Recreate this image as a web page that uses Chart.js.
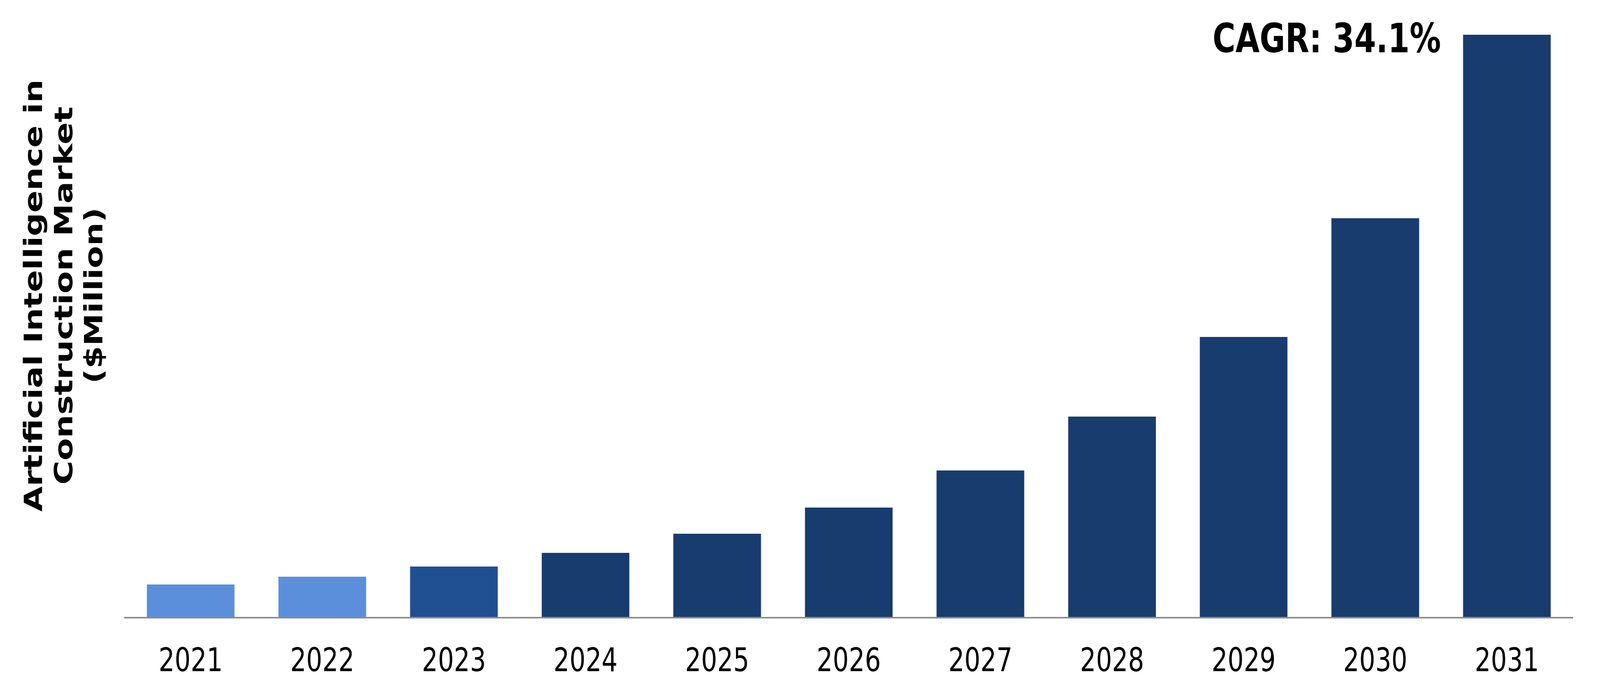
<!DOCTYPE html>
<html>
<head>
<meta charset="utf-8">
<style>
  html, body { margin: 0; padding: 0; background: #fff; overflow: hidden; }
  #aiChart { position: fixed; left: 0; top: 0; display: block; }
</style>
<script src="https://cdn.jsdelivr.net/npm/chart.js@4.4.1/dist/chart.umd.min.js"></script>
</head>
<body>
<canvas id="aiChart" width="5331" height="1757"></canvas>
<script>
// data ($Million, estimated)
const years = ['2021', '2022', '2023', '2024', '2025', '2026', '2027', '2028', '2029', '2030', '2031'];
const marketSize = [425, 525, 655, 830, 1075, 1410, 1885, 2575, 3595, 5115, 7465];
const barColors = ['#5b8fdb', '#5b8fdb', '#204f92', '#183c6e', '#183c6e', '#183c6e',
  '#183c6e', '#183c6e', '#183c6e', '#183c6e', '#183c6e'];
const yTitle = ['Artificial Intelligence in', 'Construction Market', '($Million)'];
const cagrText = 'CAGR: 34.1%';

// rotated axis title and CAGR note
const notes = {
  id: 'notes',
  afterDraw(chart) {
    const { ctx, chartArea } = chart;
    ctx.save();
    ctx.fillStyle = '#000';
    ctx.font = 'bold 84px "DejaVu Sans"';
    ctx.textAlign = 'center';
    ctx.textBaseline = 'alphabetic';
    ctx.translate(140, 757);
    ctx.rotate(-Math.PI / 2);
    yTitle.forEach((line, i) => ctx.fillText(line, 0, i * 100.5));
    ctx.restore();

    ctx.save();
    ctx.fillStyle = '#000';
    ctx.font = 'bold 104px "DejaVu Sans"';
    ctx.textAlign = 'left';
    ctx.textBaseline = 'alphabetic';
    ctx.fillText(cagrText, chartArea.right - 1200, 134);
    ctx.restore();
  }
};

const canvas = document.getElementById('aiChart');
new Chart(canvas.getContext('2d'), {
  type: 'bar',
  data: {
    labels: years,
    datasets: [{
      data: marketSize,
      backgroundColor: barColors,
      borderWidth: 0,
      categoryPercentage: 1,
      barPercentage: 0.666
    }]
  },
  options: {
    responsive: false,
    devicePixelRatio: 1,
    animation: false,
    layout: { padding: { left: 416, right: 91, top: 89, bottom: 0 } },
    plugins: {
      legend: { display: false },
      tooltip: { enabled: false }
    },
    scales: {
      x: {
        grid: { display: false, drawTicks: false },
        border: { display: true, color: '#8c8c8c', width: 4, z: 1 },
        ticks: {
          color: '#000',
          padding: 65,
          font: { family: '"DejaVu Sans"', size: 84 }
        },
        afterFit(scale) { scale.height = 175; }
      },
      y: {
        display: false,
        min: 0,
        max: Math.max(...marketSize)
      }
    }
  },
  plugins: [notes]
});

// the window is narrower than the picture, so fit the drawn canvas to it
canvas.style.width = '100vw';
canvas.style.height = '100vh';
</script>
</body>
</html>
